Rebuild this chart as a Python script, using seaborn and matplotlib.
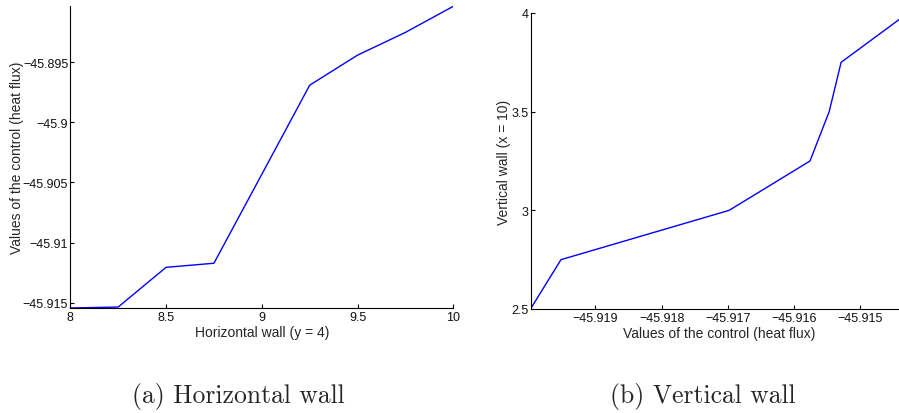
import matplotlib
matplotlib.use("Agg")
import matplotlib.pyplot as plt
import seaborn as sns
import pandas as pd

# ---- data ----
h_wall_x = [8.0, 8.25, 8.5, 8.75, 9.0, 9.25, 9.5, 9.75, 10.0]
h_wall_flux = [-45.91544, -45.91536, -45.91206, -45.91172, -45.90433,
               -45.89692, -45.89442, -45.89253, -45.89036]

v_wall_flux = [-45.91998, -45.91952, -45.91698, -45.91576, -45.91547,
               -45.91529, -45.91428]
v_wall_y = [2.5, 2.75, 3.0, 3.25, 3.5, 3.75, 4.0]

left_yticks = [-45.895, -45.9, -45.905, -45.91, -45.915]
left_yticklabels = ["\u221245.895", "\u221245.9", "\u221245.905", "\u221245.91", "\u221245.915"]
left_xticks = [8, 8.5, 9, 9.5, 10]
left_xticklabels = ["8", "8.5", "9", "9.5", "10"]

right_xticks = [-45.919, -45.918, -45.917, -45.916, -45.915]
right_xticklabels = ["\u221245.919", "\u221245.918", "\u221245.917", "\u221245.916", "\u221245.915"]
right_yticks = [2.5, 3, 3.5, 4]
right_yticklabels = ["2.5", "3", "3.5", "4"]

captions = ["(a) Horizontal wall", "(b) Vertical wall"]
left_xlabel = "Horizontal wall (y = 4)"
left_ylabel = "Values of the control (heat flux)"
right_xlabel = "Values of the control (heat flux)"
right_ylabel = "Vertical wall (x = 10)"

sns.set_theme(style="ticks")
plt.rcParams["font.family"] = ["Liberation Sans", "DejaVu Sans"]
plt.rcParams["axes.linewidth"] = 0.8
plt.rcParams["axes.edgecolor"] = "black"

W, H = 899, 414
fig = plt.figure(figsize=(W / 100, H / 100), dpi=100)
fig.patch.set_facecolor("white")


def ax_rect(x0, y0, x1, y1):
    return [x0 / W, 1 - y1 / H, (x1 - x0) / W, (y1 - y0) / H]


axL = fig.add_axes(ax_rect(70.3, 7.3, 453.3, 309.0))
axR = fig.add_axes(ax_rect(530.5, 14.0, 908.0, 310.0))

dfL = pd.DataFrame({"x": h_wall_x, "y": h_wall_flux})
dfR = pd.DataFrame({"x": v_wall_flux, "y": v_wall_y})

sns.lineplot(data=dfL, x="x", y="y", ax=axL, color="#0000ff", linewidth=1.0,
             sort=False, estimator=None)
sns.lineplot(data=dfR, x="x", y="y", ax=axR, color="#0000ff", linewidth=1.0,
             sort=False, estimator=None)

axL.set_xlim(min(h_wall_x), max(h_wall_x))
axL.set_ylim(min(h_wall_flux), max(h_wall_flux))
axR.set_xlim(min(v_wall_flux), max(v_wall_flux))
axR.set_ylim(min(v_wall_y), max(v_wall_y))

axL.set_xticks(left_xticks, left_xticklabels)
axL.set_yticks(left_yticks, left_yticklabels)
axR.set_xticks(right_xticks, right_xticklabels)
axR.set_yticks(right_yticks, right_yticklabels)

for ax in (axL, axR):
    ax.set_facecolor("white")
    for s in ("top", "right"):
        ax.spines[s].set_visible(False)
    ax.tick_params(direction="in", length=3, width=0.8, colors="black",
                   labelsize=9)
    ax.tick_params(axis="x", pad=2.5)
    ax.tick_params(axis="y", pad=1.5)
    for lab in ax.get_xticklabels() + ax.get_yticklabels():
        lab.set_color("#111111")

axL.set_xlabel(left_xlabel, fontsize=10, labelpad=1)
axL.set_ylabel(left_ylabel, fontsize=10, labelpad=-1)
axR.set_xlabel(right_xlabel, fontsize=10, labelpad=1)
axR.set_ylabel(right_ylabel, fontsize=10, labelpad=0)

cap_y = 1 - 403 / H
fig.text(238 / W, cap_y, captions[0], family=["cmr10", "DejaVu Serif"],
         fontsize=18.5, ha="center", va="baseline")
fig.text(702.5 / W, cap_y, captions[1], family=["cmr10", "DejaVu Serif"],
         fontsize=18.5, ha="center", va="baseline")

fig.savefig("out.png", dpi=100, facecolor="white")
